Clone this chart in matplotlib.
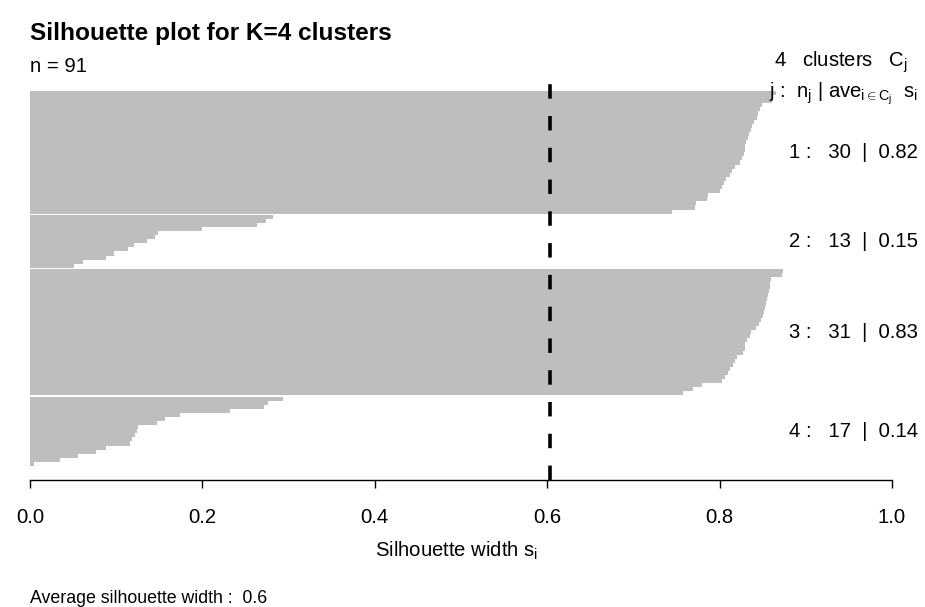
import numpy as np
import matplotlib
matplotlib.use("Agg")
import matplotlib.pyplot as plt

plt.rcParams['font.family'] = ['Liberation Sans', 'DejaVu Sans']
plt.rcParams['mathtext.fontset'] = 'custom'
plt.rcParams['mathtext.rm'] = 'Liberation Sans'
plt.rcParams['mathtext.it'] = 'Liberation Sans'
plt.rcParams['mathtext.bf'] = 'Liberation Sans:bold'

# silhouette widths per cluster, sorted high -> low
cluster_ids = [1, 2, 3, 4]
sil_c1 = [0.865, 0.862, 0.861, 0.849, 0.847, 0.845, 0.843, 0.840, 0.838, 0.836,
          0.834, 0.833, 0.831, 0.830, 0.829, 0.828, 0.826, 0.824, 0.818, 0.814,
          0.812, 0.808, 0.805, 0.803, 0.801, 0.786, 0.785, 0.773, 0.771, 0.745]
sil_c2 = [0.282, 0.274, 0.263, 0.200, 0.149, 0.145, 0.136, 0.121, 0.114, 0.098,
          0.088, 0.062, 0.051]
sil_c3 = [0.873, 0.872, 0.860, 0.859, 0.858, 0.857, 0.856, 0.855, 0.854, 0.853,
          0.852, 0.850, 0.848, 0.846, 0.842, 0.837, 0.835, 0.832, 0.830, 0.829,
          0.827, 0.820, 0.818, 0.816, 0.812, 0.810, 0.806, 0.803, 0.780, 0.769,
          0.757]
sil_c4 = [0.293, 0.276, 0.271, 0.232, 0.174, 0.157, 0.147, 0.125, 0.124, 0.122,
          0.118, 0.116, 0.088, 0.077, 0.056, 0.035, 0.005]
clusters = [sil_c1, sil_c2, sil_c3, sil_c4]
x_ticks = [0.0, 0.2, 0.4, 0.6, 0.8, 1.0]

all_vals = np.concatenate(clusters)
n_total = len(all_vals)
avg_all = all_vals.mean()

FS = 14.6       # ordinary text
FS_MAIN = 17.6  # title
FS_SUB = 12.8   # bottom line

W, H = 925, 607
fig = plt.figure(figsize=(W / 100, H / 100), dpi=100)
ax = fig.add_axes([30 / W, (H - 480) / H, 862 / W, (480 - 84) / H])

gap = 0.25
start = 0.0
for cid, vals in zip(cluster_ids, clusters):
    y = start + np.arange(len(vals)) + 0.5
    ax.barh(y, vals, height=1.0, left=0, color='#bebebe', linewidth=0)
    mid = start + len(vals) / 2
    lab = f"{cid} :   {len(vals)}  |  {np.mean(vals):.2f}"
    ax.text(1.030, mid, lab, transform=ax.get_yaxis_transform(),
            ha='right', va='center', fontsize=FS, clip_on=False)
    start += len(vals) + gap

px_unit = 375 / (n_total + 3 * gap)
top = -7 / px_unit
ax.set_ylim(top + 396 / px_unit, top)
ax.set_xlim(0, 1)

# mean silhouette width, dashed
ax.axvline(avg_all, color='black', lw=2.6, ls=(0, (4, 4.8)), zorder=5)

for s in ['left', 'right', 'top']:
    ax.spines[s].set_visible(False)
ax.spines['bottom'].set_linewidth(1.0)
ax.set_yticks([])
ax.set_xticks(x_ticks)
ax.set_xticklabels([f"{t:.1f}" for t in x_ticks])
ax.tick_params(axis='x', length=6, width=1.0, pad=14, labelsize=FS)

ax.set_xlabel(r"Silhouette width s$_\mathrm{i}$", fontsize=FS)
ax.xaxis.set_label_coords(0.495, (480 - 551) / 396)
ax.xaxis.label.set_va('center')

def fy(y):
    return 1 - y / H

fig.text(30 / W, fy(40), "Silhouette plot for K=4 clusters", fontsize=FS_MAIN,
         weight='bold', va='baseline', ha='left')
fig.text(30 / W, fy(72), f"n = {n_total}", fontsize=FS, va='baseline', ha='left')
fig.text(908 / W, fy(67), f"{len(clusters)}   clusters   C$_\\mathrm{{j}}$",
         fontsize=FS, va='baseline', ha='right')
fig.text(918 / W, fy(97),
         r"j :  n$_\mathrm{j}$ | ave$_{\mathrm{i}\in\mathrm{C_j}}$  s$_\mathrm{i}$",
         fontsize=FS, va='baseline', ha='right')
fig.text(30 / W, fy(603), f"Average silhouette width :  {round(avg_all, 2):g}",
         fontsize=FS_SUB, va='baseline', ha='left')

fig.savefig("out.png", dpi=100)
